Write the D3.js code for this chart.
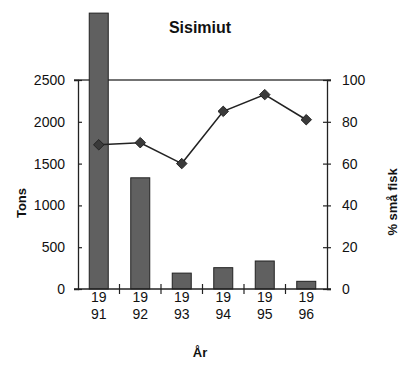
<!DOCTYPE html>
<html>
<head>
<meta charset="utf-8">
<script src="https://cdn.jsdelivr.net/npm/d3@7"></script>
<style>
  body { margin: 0; background: #fff; }
  text { font-family: "Liberation Sans", Arial, sans-serif; fill: #111; }
</style>
</head>
<body>
<svg id="chart"></svg>
<script>
// data
const years = ["1991", "1992", "1993", "1994", "1995", "1996"];
const tons = [3300, 1330, 190, 255, 335, 92];
const smaaFisk = [69, 70, 60, 85, 93, 81];
const leftTicks = [0, 500, 1000, 1500, 2000, 2500];
const rightTicks = [0, 20, 40, 60, 80, 100];

const width = 401, height = 365;
const margin = { top: 80, right: 74, bottom: 76, left: 78 };
const w = width - margin.left - margin.right;
const h = height - margin.top - margin.bottom;

const svg = d3.select("#chart").attr("width", width).attr("height", height);
const g = svg.append("g").attr("transform", `translate(${margin.left}, ${margin.top})`);

const xb = d3.scaleBand().domain(years).range([0, w]);
const yL = d3.scaleLinear().domain([0, 2500]).range([h, 0]);
const yR = d3.scaleLinear().domain([0, 100]).range([h, 0]);

// top border line
g.append("line")
  .attr("x1", -4).attr("x2", w + 4)
  .attr("y1", yL(2500)).attr("y2", yL(2500))
  .attr("stroke", "#444").attr("stroke-width", 1.3);

// bars
g.selectAll("rect.bar")
  .data(years.map((d, i) => ({ year: d, v: tons[i] })))
  .join("rect")
  .attr("class", "bar")
  .attr("x", d => xb(d.year) + xb.bandwidth() / 2 - 9.5)
  .attr("width", 19)
  .attr("y", d => yL(d.v))
  .attr("height", d => yL(0) - yL(d.v))
  .attr("fill", "#606060")
  .attr("stroke", "#222")
  .attr("stroke-width", 1);

// left axis
const axL = g.append("g")
  .call(d3.axisLeft(yL).tickValues(leftTicks).tickFormat(d3.format("d")).tickSize(4).tickPadding(9));
axL.selectAll(".tick line").attr("x2", 4);
// right axis
const axR = g.append("g").attr("transform", `translate(${w}, 0)`)
  .call(d3.axisRight(yR).tickValues(rightTicks).tickSize(4).tickPadding(11));
axR.selectAll(".tick line").attr("x1", -4);
// bottom axis
const axB = g.append("g").attr("transform", `translate(0, ${h})`)
  .call(d3.axisBottom(xb).tickSize(0).tickFormat(() => ""));
g.append("g").selectAll("line")
  .data(years.slice(1))
  .join("line")
  .attr("x1", d => xb(d)).attr("x2", d => xb(d))
  .attr("y1", h - 5).attr("y2", h + 5)
  .attr("stroke", "#222").attr("stroke-width", 1.2);

[axL, axR, axB].forEach(a => {
  a.select(".domain").attr("stroke", "#222").attr("stroke-width", 1.3);
  a.selectAll(".tick line").attr("stroke", "#222").attr("stroke-width", 1.2);
  a.selectAll(".tick text").attr("font-size", 14).attr("fill", "#111")
    .attr("font-family", "Liberation Sans, Arial, sans-serif");
});
axB.select(".domain").attr("d", `M-4,0H${w + 4}`);

// two-line year labels
const yearLab = g.append("g").selectAll("text")
  .data(years)
  .join("text")
  .attr("x", d => xb(d) + xb.bandwidth() / 2)
  .attr("y", h + 13)
  .attr("text-anchor", "middle")
  .attr("font-size", 14);
yearLab.append("tspan").attr("x", d => xb(d) + xb.bandwidth() / 2).text(d => d.slice(0, 2));
yearLab.append("tspan").attr("x", d => xb(d) + xb.bandwidth() / 2).attr("dy", 17).text(d => d.slice(2));

// line + markers
const pts = years.map((d, i) => ({ year: d, v: smaaFisk[i] }));
g.append("path")
  .datum(pts)
  .attr("fill", "none")
  .attr("stroke", "#222")
  .attr("stroke-width", 1.6)
  .attr("d", d3.line().x(d => xb(d.year) + xb.bandwidth() / 2).y(d => yR(d.v)));
g.selectAll("path.mark")
  .data(pts)
  .join("path")
  .attr("class", "mark")
  .attr("d", d3.symbol(d3.symbolDiamond2, 70))
  .attr("transform", d => `translate(${xb(d.year) + xb.bandwidth() / 2}, ${yR(d.v)})`)
  .attr("fill", "#3a3a3a")
  .attr("stroke", "#222");

// titles
svg.append("text").attr("x", 200).attr("y", 33).attr("text-anchor", "middle")
  .attr("font-size", 16).attr("font-weight", "bold").text("Sisimiut");
svg.append("text").attr("transform", "translate(26, 203) rotate(-90)")
  .attr("text-anchor", "middle").attr("font-size", 13).attr("font-weight", "bold").text("Tons");
svg.append("text").attr("transform", "translate(397, 202) rotate(-90)")
  .attr("text-anchor", "middle").attr("font-size", 13).attr("font-weight", "bold").text("% små fisk");
svg.append("text").attr("x", 200).attr("y", 357).attr("text-anchor", "middle")
  .attr("font-size", 13).attr("font-weight", "bold").text("År");
</script>
</body>
</html>
